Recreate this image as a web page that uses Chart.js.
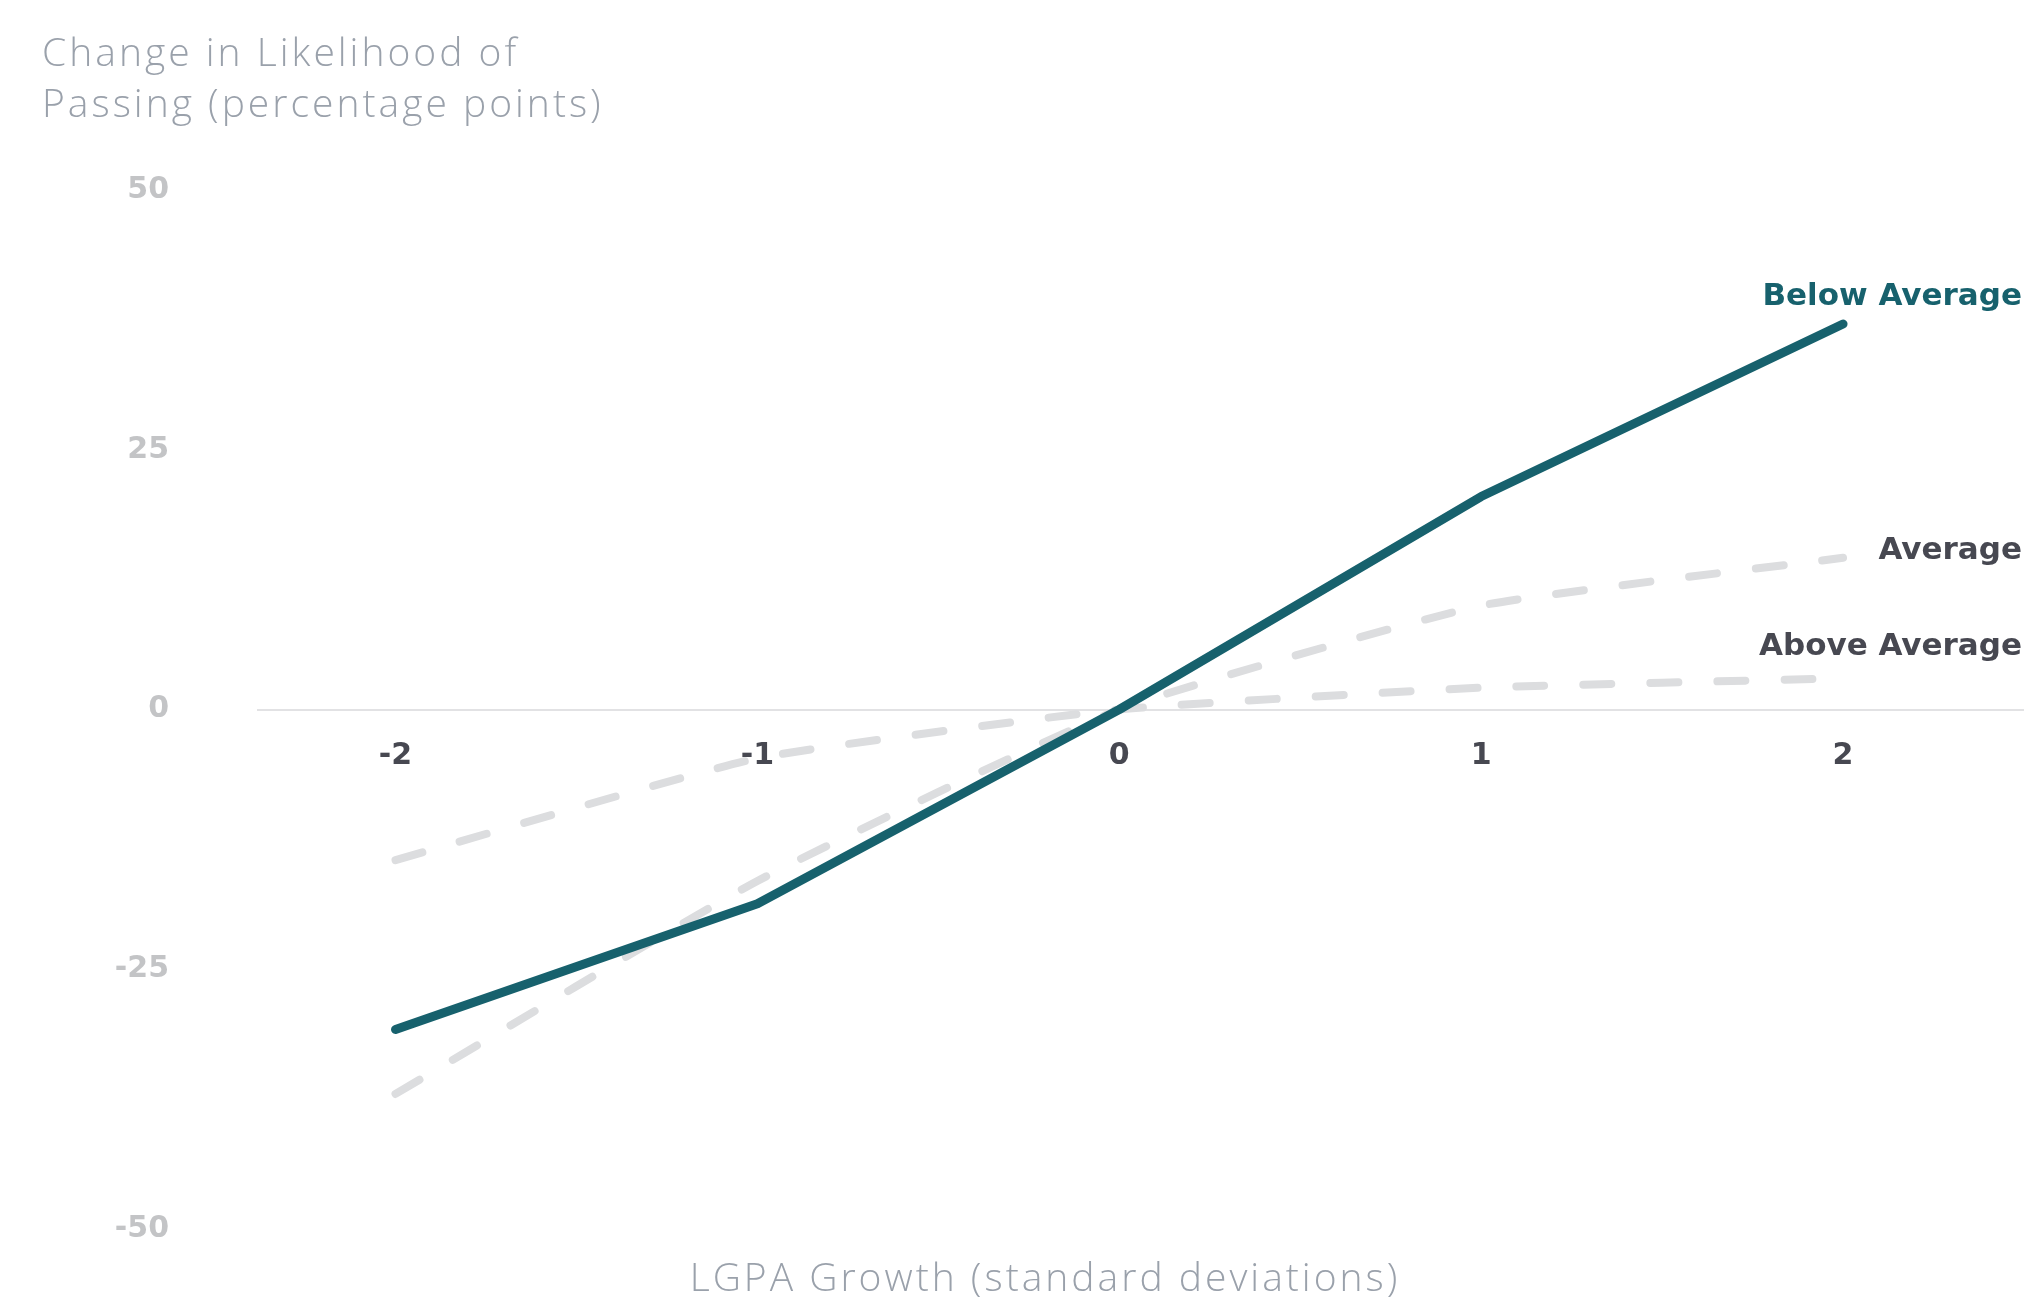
<!DOCTYPE html>
<html>
<head>
<meta charset="utf-8">
<script src="https://cdn.jsdelivr.net/npm/chart.js@4.4.1/dist/chart.umd.min.js"></script>
<style>
  body { margin: 0; background: #fff; }
  #wrap { width: 2024px; height: 1297px; position: relative; }
</style>
</head>
<body>
<div id="wrap"><canvas id="chart"></canvas></div>
<script>
const growth = [-2, -1, 0, 1, 2]
const belowAverage = [-30.8, -18.7, 0, 20.5, 37.1]
const average = [-37.0, -16.5, 0, 10.0, 14.6]
const aboveAverage = [-14.5, -4.7, 0, 2.1, 3.0]
const xTicks = [-2, -1, 0, 1, 2]
const yTicks = [-50, -25, 0, 25, 50]

const teal = '#17616d'
const dashGrey = '#dcdddf'
const labelDark = '#474851'
const boldFont = '"DejaVu Sans", sans-serif'

const toPoints = (vals) => vals.map((v, i) => ({ x: growth[i], y: v }))

const labelsPlugin = {
  id: 'labels',
  afterDatasetsDraw(chart) {
    const ctx = chart.ctx
    ctx.save()
    // axis titles
    ctx.font = '300 39px "Open Sans", sans-serif'
    ctx.letterSpacing = '3px'
    ctx.fillStyle = '#9aa1ab'
    ctx.textBaseline = 'middle'
    ctx.textAlign = 'left'
    ctx.fillText('Change in Likelihood of', 42, 55)
    ctx.fillText('Passing (percentage points)', 42, 106)
    ctx.textAlign = 'center'
    ctx.fillText('LGPA Growth (standard deviations)', 1045, 1280)
    ctx.letterSpacing = '0px'

    // end-of-line labels
    const ends = [
      { ds: 0, color: teal, dy: -27 },
      { ds: 1, color: labelDark, dy: -7 },
      { ds: 2, color: labelDark, dy: -31 }
    ]
    ctx.font = 'bold 31px ' + boldFont
    ctx.textAlign = 'right'
    ends.forEach(e => {
      const meta = chart.getDatasetMeta(e.ds)
      const last = meta.data[meta.data.length - 1]
      ctx.fillStyle = e.color
      ctx.fillText(chart.data.datasets[e.ds].label, chart.width - 2, last.y + e.dy)
    })
    ctx.restore()
  }
}

new Chart(document.getElementById('chart'), {
  type: 'line',
  data: {
    datasets: [
      {
        label: 'Below Average',
        data: toPoints(belowAverage),
        borderColor: teal,
        borderWidth: 9,
        borderCapStyle: 'round',
        borderJoinStyle: 'round',
        pointRadius: 0,
        tension: 0,
        order: 0
      },
      {
        label: 'Average',
        data: toPoints(average),
        borderColor: dashGrey,
        borderWidth: 8,
        borderDash: [28, 39],
        borderCapStyle: 'round',
        pointRadius: 0,
        tension: 0.15,
        order: 1
      },
      {
        label: 'Above Average',
        data: toPoints(aboveAverage),
        borderColor: dashGrey,
        borderWidth: 8,
        borderDash: [28, 39],
        borderCapStyle: 'round',
        pointRadius: 0,
        tension: 0.15,
        order: 2
      }
    ]
  },
  options: {
    responsive: true,
    maintainAspectRatio: false,
    devicePixelRatio: 1,
    animation: false,
    layout: { padding: { left: 0, right: 0, top: 190, bottom: 68 } },
    plugins: {
      legend: { display: false },
      tooltip: { enabled: false }
    },
    scales: {
      x: {
        type: 'linear',
        position: { y: 0 },
        min: -2.38,
        max: 2.5,
        afterBuildTicks: (scale) => { scale.ticks = xTicks.map(v => ({ value: v })) },
        afterFit: (scale) => { scale.height = 0 },
        grid: { display: false, drawTicks: false },
        border: { display: true, color: '#e2e2e4', width: 2 },
        ticks: {
          padding: 29,
          color: labelDark,
          font: { family: boldFont, size: 30, weight: 'bold' }
        }
      },
      y: {
        min: -50,
        max: 50,
        afterBuildTicks: (scale) => { scale.ticks = yTicks.map(v => ({ value: v })) },
        afterFit: (scale) => {
          scale.width = 258
          scale.paddingTop = 0
          scale.paddingBottom = 0
        },
        grid: { display: false, drawTicks: false },
        border: { display: false },
        ticks: {
          padding: 89,
          color: '#c3c4c6',
          font: { family: boldFont, size: 30, weight: 'bold' }
        }
      }
    }
  },
  plugins: [labelsPlugin]
})
</script>
</body>
</html>
